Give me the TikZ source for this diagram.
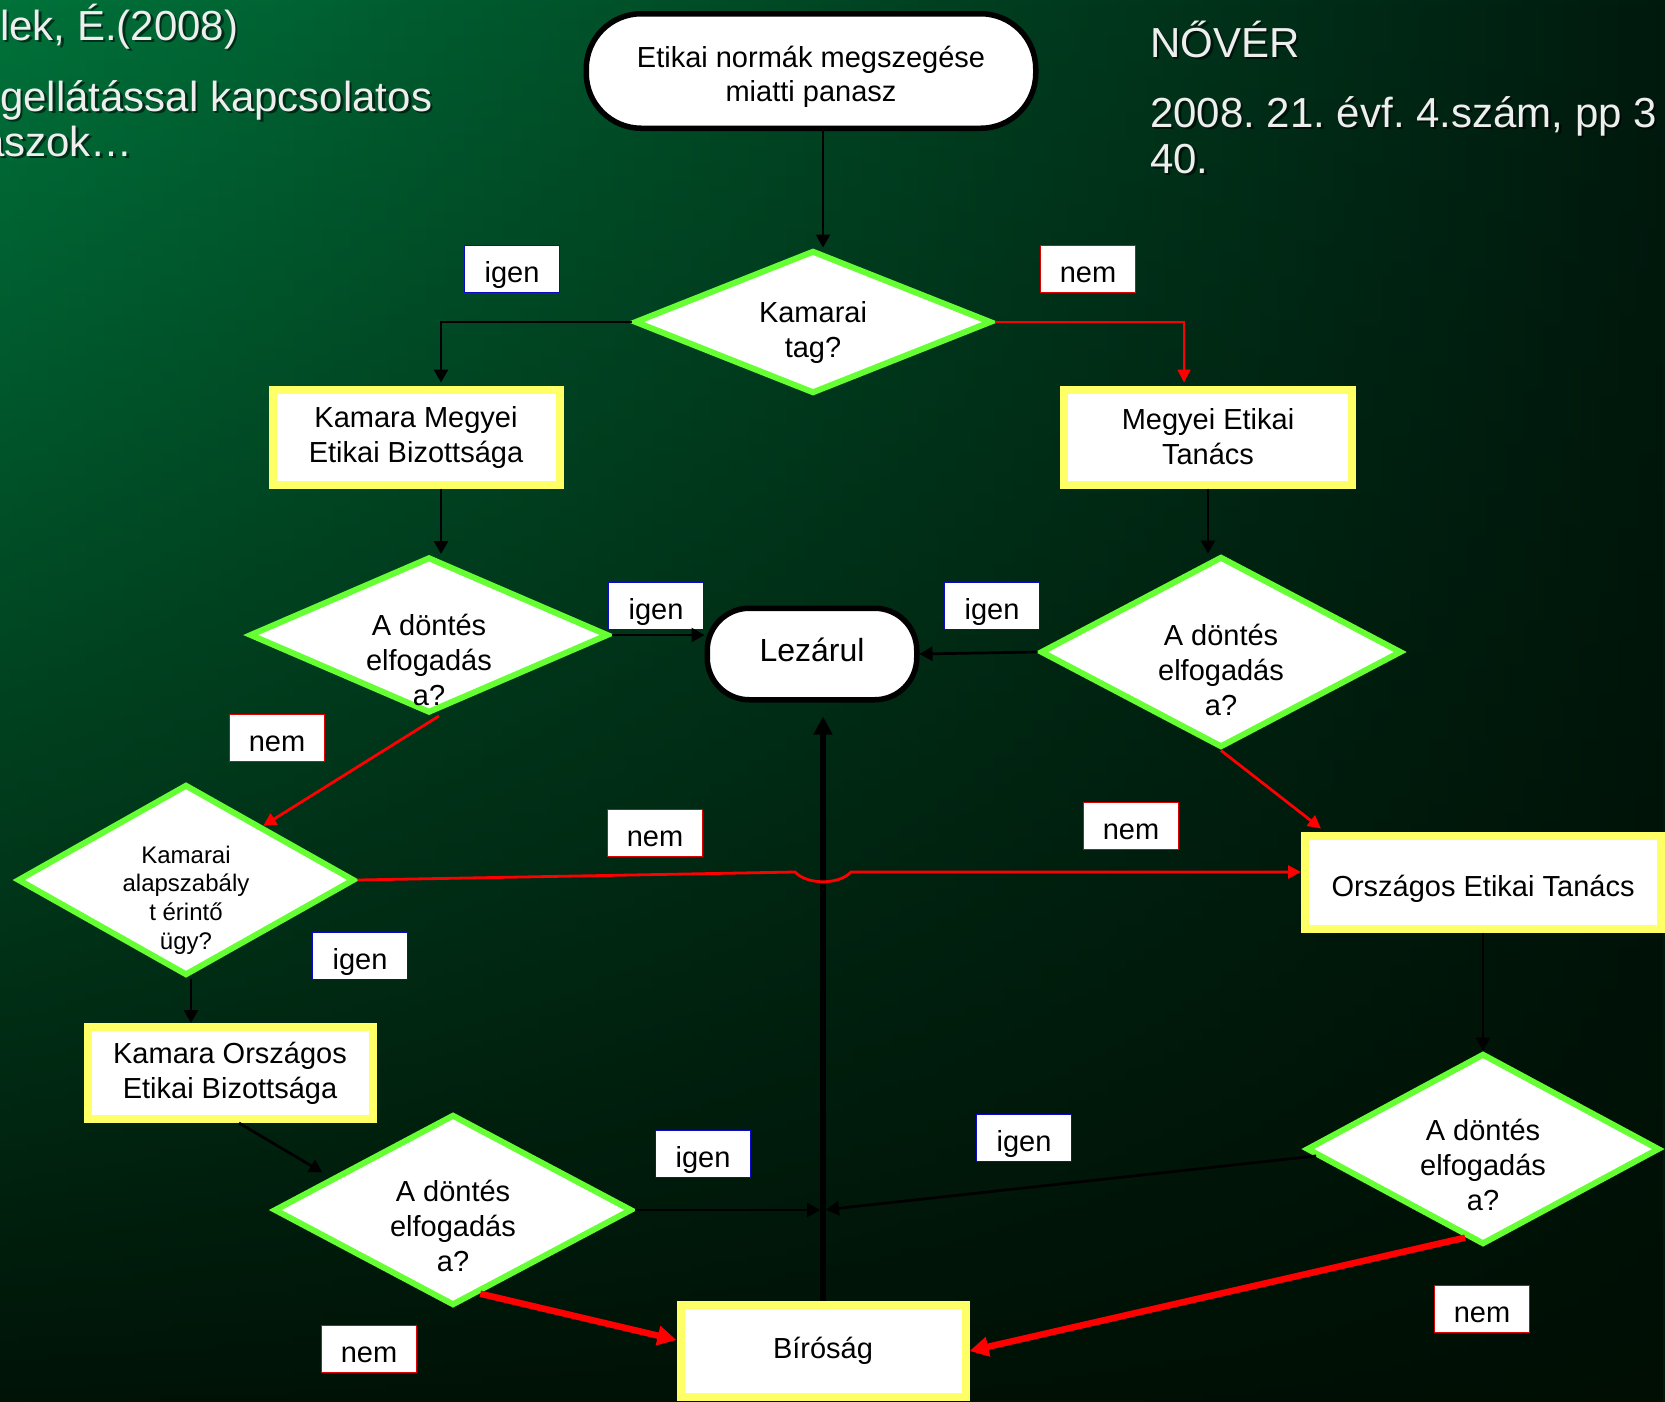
\documentclass[tikz,border=0pt]{standalone}
\usepackage{fontspec}
\setmainfont{Liberation Sans}
\usetikzlibrary{shapes.geometric,arrows.meta,calc,fadings}
\frenchspacing

\definecolor{bgA}{RGB}{0,114,58}
\definecolor{bgB}{RGB}{0,90,47}
\definecolor{bgC}{RGB}{0,26,14}
\definecolor{bgD}{RGB}{0,14,4}
\definecolor{dgreen}{RGB}{102,255,51}
\definecolor{byellow}{RGB}{255,255,102}
\definecolor{lblue}{RGB}{10,10,200}
\definecolor{lred}{RGB}{225,0,0}
\definecolor{ttext}{RGB}{238,238,238}

\tikzfading[name=vfade, top color=transparent!100, middle color=transparent!80, bottom color=transparent!5]

\newcommand\titletext[4]{%
  \node[ttl, text=black, opacity=0.55] at ($(#2,#3)+(2.5,2.5)$) {#4};
  \node[ttl] (#1) at (#2,#3) {#4};}

\begin{document}
\begin{tikzpicture}[x=1pt,y=-1pt,
  ttl/.style={text=ttext, font=\fontsize{42}{46}\selectfont, anchor=base west, inner sep=0pt},
  term/.style={draw=black, line width=5.5pt, fill=white, align=center, inner sep=0pt,
    font=\fontsize{29}{34}\selectfont},
  dia/.style={diamond, draw=dgreen, line width=6pt, fill=white, inner sep=0pt},
  dtxt/.style={align=center, inner sep=0pt, font=\fontsize{29}{35}\selectfont},
  ybox/.style={rectangle, draw=byellow, line width=8pt, fill=white, align=center, inner sep=0pt,
    font=\fontsize{29}{35}\selectfont},
  lbyes/.style={rectangle, draw=lblue, line width=1.6pt, fill=white, minimum width=95pt,
    minimum height=47pt, inner sep=0pt, text height=26pt, text depth=0pt,
    font=\fontsize{29}{34}\selectfont},
  lbno/.style={lbyes, draw=lred},
  blk/.style={draw=black, line width=2.7pt, -{Triangle[length=13pt,width=14pt]}},
  blkthick/.style={draw=black, line width=5.7pt, -{Triangle[length=18pt,width=18pt]}},
  redthin/.style={draw=red, line width=2pt, -{Triangle[length=13pt,width=13pt]}},
  redmid/.style={draw=red, line width=2.8pt, -{Triangle[length=13pt,width=13pt]}},
  redthick/.style={draw=red, line width=6.5pt, -{Triangle[length=19pt,width=19pt]}},
]
\useasboundingbox (0,0) rectangle (1665,1401);
\clip (0,0) rectangle (1665,1401);

% background
\shade[left color=bgA, middle color=bgB, right color=bgC] (0,0) rectangle (1665,1401);
\fill[bgD, path fading=vfade] (0,0) rectangle (1665,1401);

% title texts
\titletext{t1}{0}{40}{lek, É.(2008)}
\titletext{t2}{0}{111}{gellátással kapcsolatos}
\titletext{t3}{-19}{156}{aszok…}
\titletext{t4}{1150}{57}{NŐVÉR}
\titletext{t5}{1150}{127}{2008. 21. évf. 4.szám, pp 3}
\titletext{t6}{1150}{173}{40.}

% terminators
\node[term, rounded corners=55pt, minimum width=449.5pt, minimum height=114.5pt] (start) at (811,71) {};
\node[dtxt, font=\fontsize{29}{34}\selectfont] (startt) at (811,77)
  {Etikai normák megszegése\\miatti panasz};
\node[term, rounded corners=42pt, minimum width=209.5pt, minimum height=91.5pt,
  text height=15pt, text depth=0pt,
  font=\fontsize{32}{36}\selectfont] (lz) at (812,654) {Lezárul};

% diamonds
\node[dia, minimum width=357pt, minimum height=143pt] (kt) at (813,322) {};
\node[dtxt] (ktt) at (813,332) {Kamarai\\tag?};
\node[dia, minimum width=359pt, minimum height=156pt] (d1) at (429,635) {};
\node[dtxt] (d1t) at (429,660) {A döntés\\elfogadás\\a?};
\node[dia, minimum width=361pt, minimum height=191pt] (d2) at (1221,652) {};
\node[dtxt] (d2t) at (1221,670) {A döntés\\elfogadás\\a?};
\node[dia, minimum width=337pt, minimum height=191pt] (d3) at (186,880) {};
\node[dtxt, font=\fontsize{24}{28.7}\selectfont] (d3t) at (186,900)
  {Kamarai\\alapszabály\\t érintő\\ügy?};
\node[dia, minimum width=358pt, minimum height=191pt] (d4) at (453,1210) {};
\node[dtxt] (d4t) at (453,1226) {A döntés\\elfogadás\\a?};
\node[dia, minimum width=353pt, minimum height=191pt] (d5) at (1483,1149) {};
\node[dtxt] (d5t) at (1483,1165) {A döntés\\elfogadás\\a?};

% yellow boxes
\node[ybox, minimum width=287pt, minimum height=95pt] (kmb) at (416,437)
  {Kamara Megyei\\Etikai Bizottsága};
\node[ybox, minimum width=288pt, minimum height=95pt] (met) at (1208,437)
  {Megyei Etikai\\Tanács};
\node[ybox, minimum width=356pt, minimum height=93pt, text height=28pt, text depth=0pt] (oet) at (1483,882)
  {Országos Etikai Tanács};
\node[ybox, minimum width=285pt, minimum height=92pt] (kob) at (230,1073)
  {Kamara Országos\\Etikai Bizottsága};
\node[ybox, minimum width=285pt, minimum height=92pt] (bir) at (823,1351) {Bíróság};

% labels
\node[lbyes] (l1) at (512,269) {igen};
\node[lbno]  (l2) at (1088,269) {nem};
\node[lbyes] (l3) at (656,606) {igen};
\node[lbyes] (l4) at (992,606) {igen};
\node[lbno]  (l5) at (277,738) {nem};
\node[lbno]  (l6) at (655,833) {nem};
\node[lbno]  (l7) at (1131,826) {nem};
\node[lbyes] (l8) at (360,956) {igen};
\node[lbyes] (l9) at (703,1154) {igen};
\node[lbyes] (l10) at (1024,1138) {igen};
\node[lbno]  (l11) at (1482,1309) {nem};
\node[lbno]  (l12) at (369,1349) {nem};

% helper coordinates
\coordinate (kmbtop) at ($(kmb.north)+(25,-3)$);
\coordinate (kmbbot) at ($(kmb.south)+(25,0)$);
\coordinate (mettop) at ($(met.north)+(-24,-3)$);
\coordinate (d1s) at ($(d1.south)+(10,0)$);
\coordinate (d3ne) at ($(d3.north)!0.45!(d3.east)$);
\coordinate (oetnw) at ($(oet.north west)+(20,-3)$);
\coordinate (hopL) at ($(bir.north |- oet.west)+(-28,-10)$);
\coordinate (hopR) at ($(bir.north |- oet.west)+(28,-10)$);
\coordinate (oetin) at ($(oet.west)+(0,-10)$);
\coordinate (d3s) at ($(d3.south)+(5,0)$);
\coordinate (kobs) at ($(kob.south)+(9,0)$);
\coordinate (d4ul) at ($(d4.west)!0.33!(d4.north)$);
\coordinate (j1) at (d4.east -| bir.north);
\coordinate (d5w) at ($(d5.west)!0.07!(d5.south)$);
\coordinate (d5sw) at ($(d5.south)!0.1!(d5.west)$);
\coordinate (d4se) at ($(d4.south)!0.15!(d4.east)$);
\coordinate (birw) at ($(bir.west)+(0,-11)$);
\coordinate (lzb) at ($(lz.south -| bir.north)+(0,14)$);

% connectors
\draw[blk] (start.south -| bir.north) -- (kt.north -| bir.north);
\draw[blk] (kt.west) -| (kmbtop);
\draw[redthin] (kt.east) -| (mettop);
\draw[blk] (kmbbot) -- (kmbbot |- d1.north);
\draw[blk] (met.south) -- (met.south |- d2.north);
\draw[blk] (d1.east) -- (d1.east -| lz.west);
\draw[blk] (d2.west) -- (lz.east);
\draw[redmid] (d1s) -- (d3ne);
\draw[redmid] (d2.south) -- (oetnw);
\draw[blkthick] (bir.north) -- (lzb);
\draw[redmid] (d3.east) -- (hopL) .. controls ($(hopL)+(12,13)$) and ($(hopR)+(-12,13)$) .. (hopR) -- (oetin);
\draw[blk] (d3s) -- (d3s |- kob.north);
\draw[blk, shorten >=10pt] (kobs) -- (d4ul);
\draw[blk, shorten >=3pt] (d4.east) -- (j1);
\draw[blk, shorten >=3pt] (d5w) -- (j1);
\draw[blk] (oet.south) -- (d5.north);
\draw[redthick] (d5sw) -- (bir.east);
\draw[redthick] (d4se) -- (birw);
\end{tikzpicture}
\end{document}
